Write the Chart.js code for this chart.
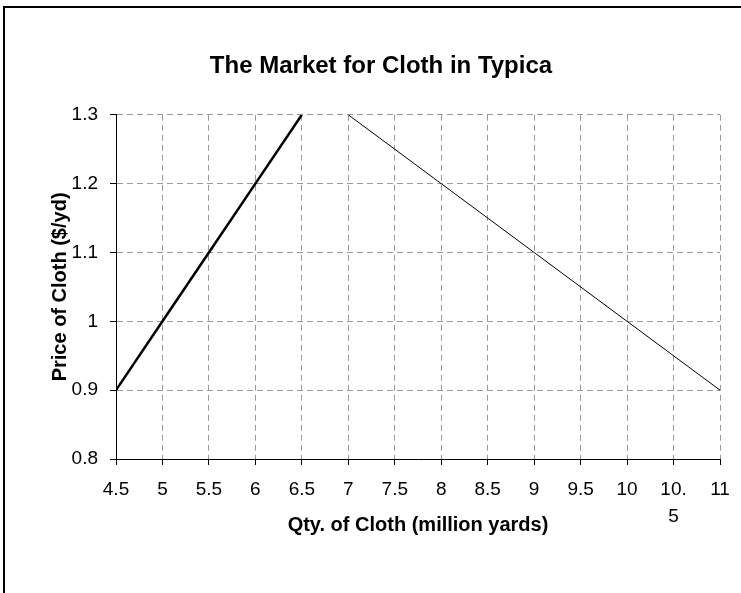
<!DOCTYPE html>
<html>
<head>
<meta charset="utf-8">
<script src="https://cdn.jsdelivr.net/npm/chart.js@4.4.1/dist/chart.umd.min.js"></script>
<style>
    html, body { margin: 0; padding: 0; background: #fff; overflow: hidden; }
    #wrap { position: relative; width: 741px; height: 593px; }
    #frame { position: absolute; left: 3px; top: 6px; width: 800px; height: 700px; border: 2px solid #000; box-sizing: border-box; }
    canvas { position: absolute; left: 0; top: 0; }
</style>
</head>
<body>
<div id="wrap">
    <div id="frame"></div>
    <canvas id="chart" width="741" height="593"></canvas>
</div>
<script>
// price levels and quantities
var prices = [0.9, 1.0, 1.1, 1.2, 1.3];
var supplyQty = [4.5, 5, 5.5, 6, 6.5];
var demandQty = [11, 10, 9, 8, 7];

// axis ticks
var xTicks = [4.5, 5, 5.5, 6, 6.5, 7, 7.5, 8, 8.5, 9, 9.5, 10, 10.5, 11];
var xTickLabels = ['4.5', '5', '5.5', '6', '6.5', '7', '7.5', '8', '8.5', '9', '9.5', '10', ['10.', '5'], '11'];
var yTicks = [0.8, 0.9, 1.0, 1.1, 1.2, 1.3];
var yTickLabels = ['0.8', '0.9', '1', '1.1', '1.2', '1.3'];

var fontFamily = '"Liberation Sans", Arial, sans-serif';

function toPoints(xs, ys) {
    return xs.map(function (x, i) { return { x: x, y: ys[i] }; });
}

var gridOpts = {
    color: '#9a9a9a',
    lineWidth: 1,
    tickColor: '#000',
    tickLength: 6,
    tickBorderDash: []
};

var ctx = document.getElementById('chart').getContext('2d');
new Chart(ctx, {
    type: 'scatter',
    data: {
        datasets: [
            {
                label: 'Supply',
                data: toPoints(supplyQty, prices),
                showLine: true,
                borderColor: '#000',
                borderWidth: 2.5,
                pointRadius: 0,
                fill: false
            },
            {
                label: 'Demand',
                data: toPoints(demandQty, prices),
                showLine: true,
                borderColor: '#000',
                borderWidth: 1,
                pointRadius: 0,
                fill: false
            }
        ]
    },
    options: {
        responsive: false,
        animation: false,
        layout: { padding: { left: 21, right: 0, top: 0, bottom: 0 } },
        plugins: {
            legend: { display: false },
            tooltip: { enabled: false },
            title: {
                display: true,
                text: 'The Market for Cloth in Typica',
                color: '#000',
                font: { family: fontFamily, size: 24, weight: 'bold', lineHeight: 1.2 },
                padding: { top: 52, bottom: 34 }
            }
        },
        scales: {
            x: {
                type: 'linear',
                min: 4.5,
                max: 11,
                afterBuildTicks: function (s) {
                    s.ticks = xTicks.map(function (v) { return { value: v }; });
                },
                afterFit: function (s) {
                    s.height = 134;
                    s.paddingRight = 21;
                },
                ticks: {
                    color: '#000',
                    maxRotation: 0,
                    autoSkip: false,
                    padding: 11,
                    font: { family: fontFamily, size: 19, lineHeight: 1.42 },
                    callback: function (v, i) { return xTickLabels[i]; }
                },
                grid: gridOpts,
                border: { display: true, color: '#000', width: 1, dash: [6, 4] },
                title: {
                    display: true,
                    text: 'Qty. of Cloth (million yards)',
                    color: '#000',
                    font: { family: fontFamily, size: 20, weight: 'bold', lineHeight: 1.2 },
                    padding: { top: 0, bottom: 56 }
                }
            },
            y: {
                type: 'linear',
                min: 0.8,
                max: 1.3,
                afterBuildTicks: function (s) {
                    s.ticks = yTicks.map(function (v) { return { value: v }; });
                },
                afterFit: function (s) {
                    s.width = 95;
                },
                ticks: {
                    color: '#000',
                    padding: 12,
                    font: { family: fontFamily, size: 19 },
                    callback: function (v, i) { return yTickLabels[i]; }
                },
                grid: gridOpts,
                border: { display: true, color: '#000', width: 1, dash: [6, 4] },
                title: {
                    display: true,
                    text: 'Price of Cloth ($/yd)',
                    color: '#000',
                    font: { family: fontFamily, size: 20, weight: 'bold', lineHeight: 1.2 },
                    padding: { top: 27, bottom: 0 }
                }
            }
        }
    }
});
</script>
</body>
</html>
